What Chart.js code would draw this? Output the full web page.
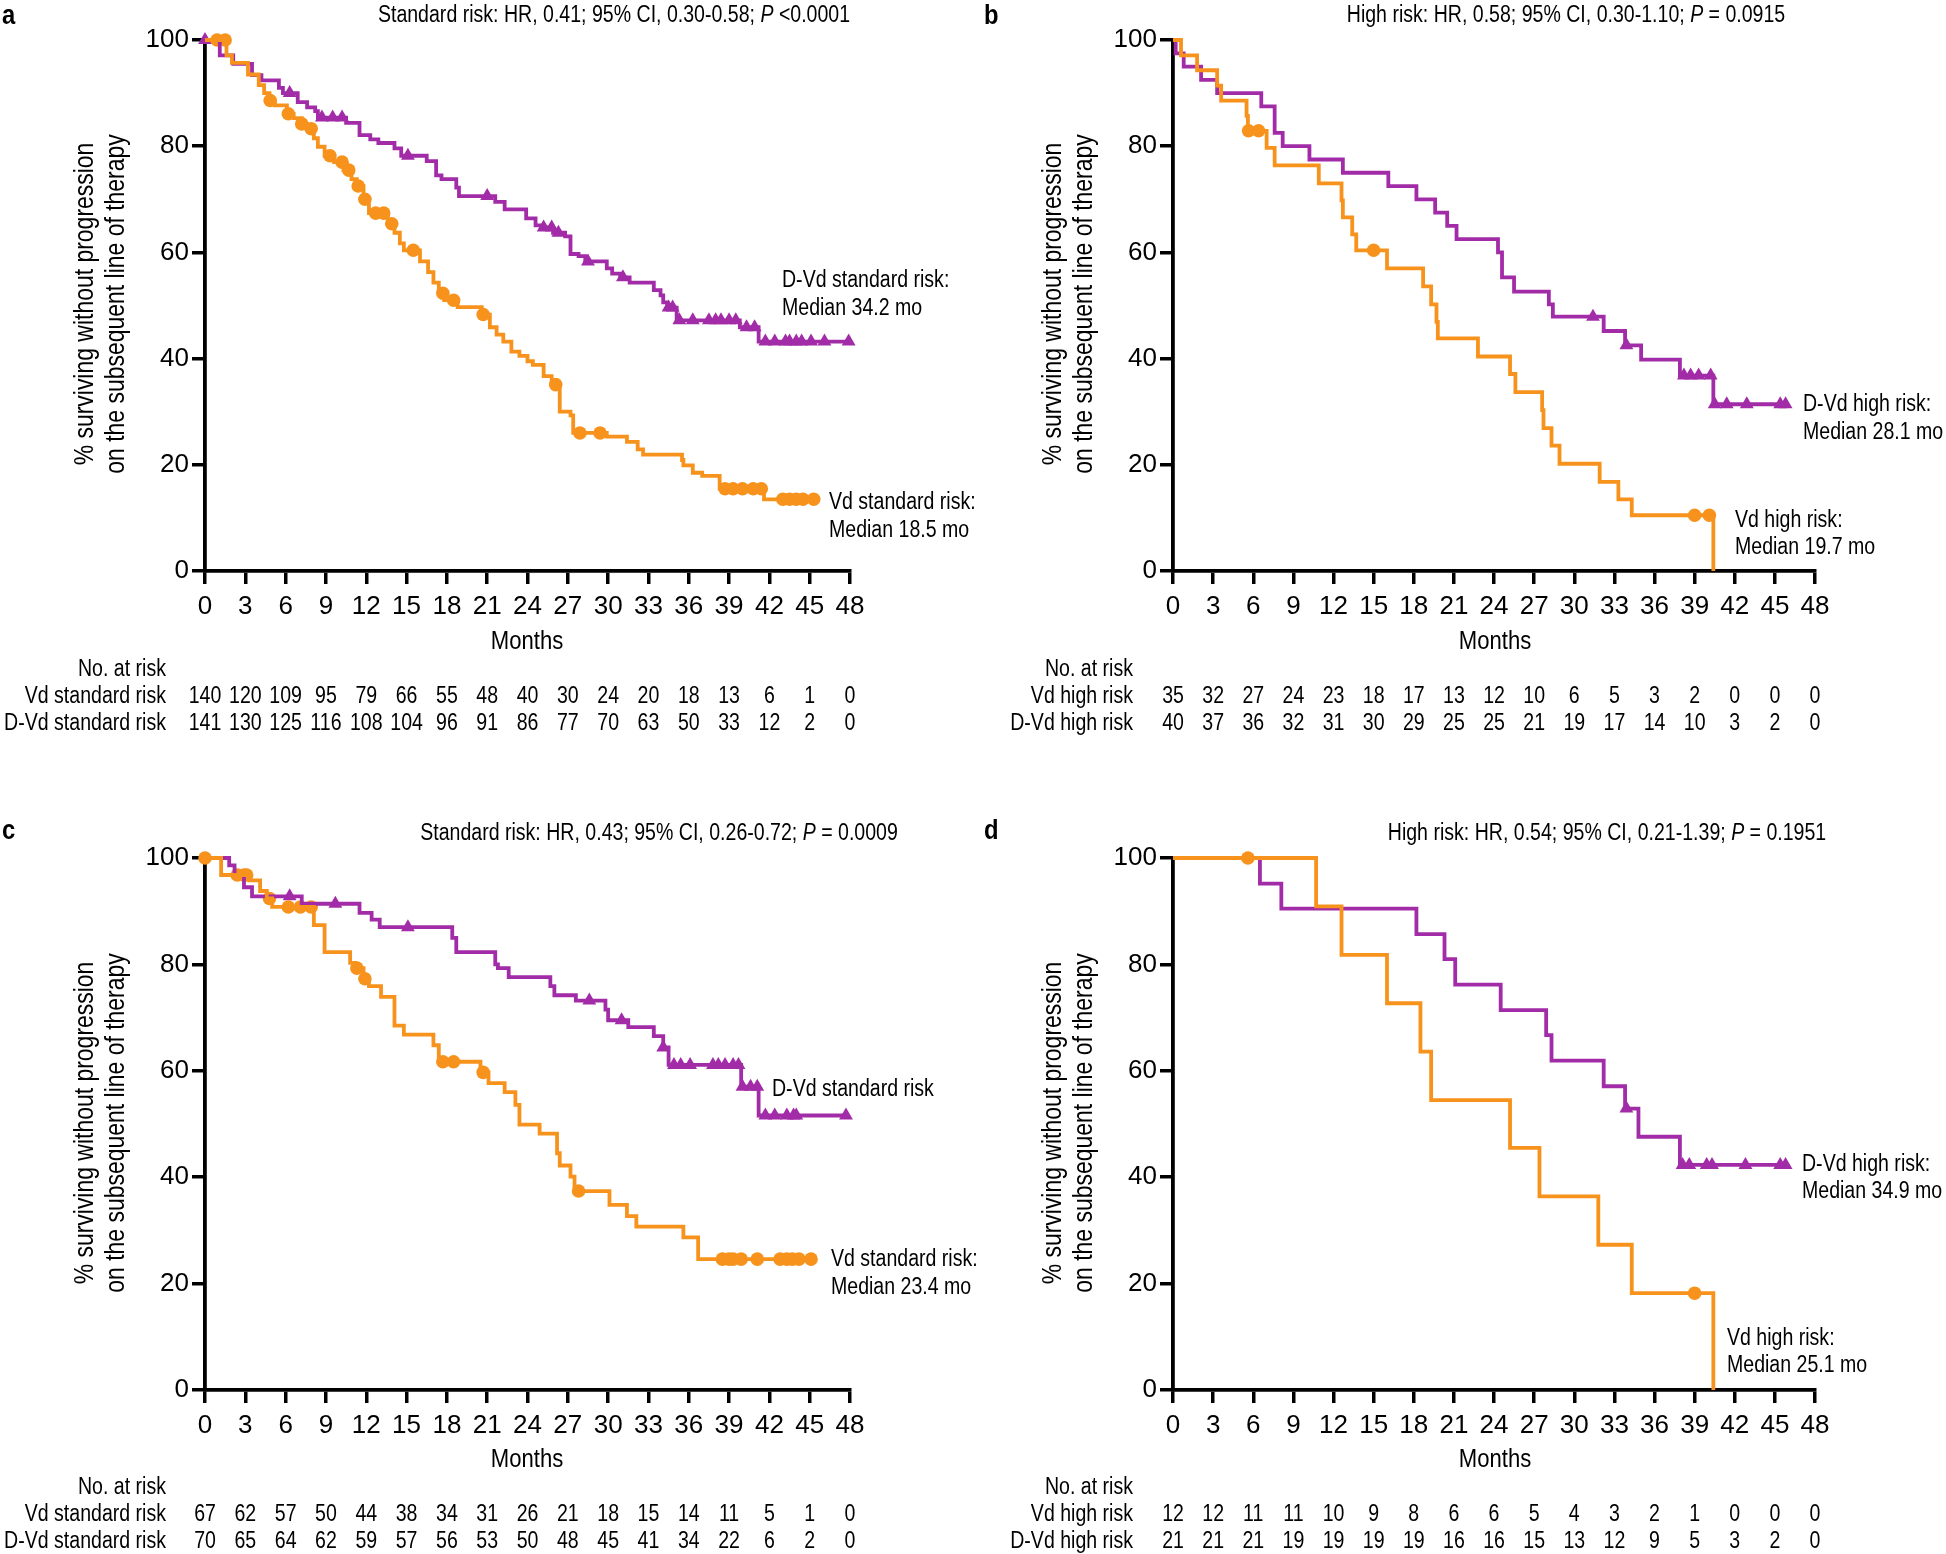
<!DOCTYPE html>
<html><head><meta charset="utf-8">
<script src="https://cdn.jsdelivr.net/npm/chart.js@4.4.1/dist/chart.umd.min.js"></script>
<style>
html,body{margin:0;padding:0;background:#fff;}
#wrap{position:relative;width:1946px;height:1554px;overflow:hidden;background:#fff;}
canvas{position:absolute;}
</style></head><body><div id="wrap">
<canvas id="ca" width="1010" height="777" style="left:0;top:0;width:1010px;height:777px"></canvas>
<canvas id="cc" width="1010" height="777" style="left:0;top:777px;width:1010px;height:777px"></canvas>
<canvas id="cb" width="973" height="777" style="left:973px;top:0;width:973px;height:777px"></canvas>
<canvas id="cd" width="973" height="777" style="left:973px;top:777px;width:973px;height:777px"></canvas>
</div>
<script>
// ---------- tick labels ----------
const monthTicks = [0,3,6,9,12,15,18,21,24,27,30,33,36,39,42,45,48];
const pctTicks = [0,20,40,60,80,100];

// ---------- panel a: standard risk ----------
const aVdTime = [0,1.6,2.0,3.2,4.0,4.4,4.8,5.2,6.1,6.6,7.2,7.6,8.1,8.4,8.9,9.6,10.3,10.9,11.3,11.8,12.2,13.6,14.1,14.5,14.8,16.0,16.6,17.0,17.4,17.8,18.8,20.6,21.2,21.7,22.2,22.8,23.4,24.0,24.4,25.2,25.8,26.4,27.2,27.4,29.9,31.4,32.2,32.6,35.5,35.6,36.3,37.0,38.3,41.6,45.3];
const aVdSurv = [100,97.1,95.7,93.5,91.5,90.0,88.6,87.7,86.1,85.3,84.2,83.3,81.5,79.9,78.2,77.0,75.5,73.8,72.5,70.0,67.4,65.4,63.7,61.7,60.4,58.3,56.3,54.3,52.3,51.0,49.7,48.3,45.9,44.5,43.2,41.3,40.5,39.5,38.8,36.7,35.1,30.0,29.3,26.0,25.3,24.3,22.9,21.9,20.9,19.9,18.5,17.9,15.5,13.5,13.5];
const aVdCensor = [0.9,1.5,4.85,6.2,7.2,7.9,9.3,10.2,10.7,11.4,11.9,12.7,13.3,13.9,15.5,17.7,18.5,20.7,26.1,27.9,29.4,38.7,39.3,40.0,40.8,41.4,43.0,43.5,44.0,44.5,45.3];
const aDVdTime = [0,1.1,2.1,3.5,4.2,5.5,5.8,6.9,7.6,8.2,8.4,10.5,11.5,12.3,12.9,14.1,14.6,16.5,17.2,17.6,18.7,18.9,21.6,22.3,23.9,24.6,25.0,25.9,26.8,27.2,27.8,28.3,29.9,30.3,30.9,31.6,33.4,33.9,34.1,34.4,35.1,39.8,41.2,47.9];
const aDVdSurv = [100,97.1,95.5,93.4,92.4,91.0,90.0,88.3,87.3,86.6,85.4,84.4,82.1,81.3,80.6,79.6,78.2,77.2,74.5,73.8,72.2,70.6,69.5,68.1,66.4,65.1,64.7,63.7,63.0,59.7,59.3,58.3,57.0,56.0,55.3,54.3,52.9,51.9,50.6,49.6,47.2,45.9,43.2,43.2];
const aDVdCensor = [0,6.3,8.7,9.5,10.2,15.1,21.0,25.2,25.8,26.3,28.5,31.1,34.5,34.8,35.3,36.3,37.5,38.0,38.4,39.0,39.5,40.3,40.9,41.7,42.4,43.2,43.5,44.0,44.4,45.1,46.1,47.9];
const aVdRisk = [140,120,109,95,79,66,55,48,40,30,24,20,18,13,6,1,0];
const aDVdRisk = [141,130,125,116,108,104,96,91,86,77,70,63,50,33,12,2,0];

// ---------- panel b: high risk ----------
const bVdTime = [0,0.6,1.8,3.3,3.6,5.5,5.6,7.0,7.6,10.9,12.6,12.7,13.4,13.7,16.0,18.7,19.3,19.7,19.8,22.8,25.2,25.6,27.6,27.7,28.3,28.9,31.9,33.3,34.3,40.4];
const bVdSurv = [100,97.1,94.3,91.4,88.6,85.7,82.9,79.7,76.4,73.0,69.8,66.6,63.4,60.4,57.0,53.6,50.2,46.9,43.8,40.4,37.1,33.7,30.3,26.9,23.6,20.2,16.8,13.5,10.5,0];
const bVdCensor = [5.65,6.4,15.0,39.0,40.1];
const bDVdTime = [0,0.2,0.8,2.1,3.3,6.6,7.6,8.2,10.2,12.7,16.1,18.2,19.6,20.5,21.2,24.3,24.6,25.5,28.1,28.4,32.2,33.8,35.0,37.9,40.4,45.8];
const bDVdSurv = [100,97.5,95.0,92.5,90.0,87.5,82.5,80.0,77.5,75.0,72.5,70.0,67.5,65.0,62.5,60.0,55.3,52.6,50.2,47.9,45.2,42.5,39.8,36.8,31.4,31.4];
const bDVdCensor = [31.4,33.9,38.2,38.7,39.3,40.2,40.5,41.4,42.9,45.4,45.8];
const bVdRisk = [35,32,27,24,23,18,17,13,12,10,6,5,3,2,0,0,0];
const bDVdRisk = [40,37,36,32,31,30,29,25,25,21,19,17,14,10,3,2,0];

// ---------- panel c: standard risk ----------
const cVdTime = [0,1.2,3.3,4.1,4.6,5.0,8.1,8.9,10.8,11.2,11.8,12.2,13.1,14.1,14.8,17.0,17.4,20.5,21.1,22.3,23.1,23.4,24.9,26.2,26.4,27.2,27.5,30.1,31.4,32.1,35.6,36.7,45.1];
const cVdSurv = [100,96.8,95.8,93.8,92.4,90.8,87.4,82.3,80.3,79.3,77.3,75.9,73.9,68.5,66.8,64.8,61.7,59.7,57.7,56.0,53.6,49.9,48.2,44.5,42.2,40.1,37.4,34.8,32.7,30.7,28.7,24.6,24.6];
const cVdCensor = [0,2.4,2.9,3.1,4.8,6.2,7.1,7.9,11.3,11.9,17.7,18.5,20.7,27.8,38.5,39.0,39.3,39.9,41.1,42.8,43.3,43.7,44.2,45.1];
const cDVdTime = [0,1.8,2.2,2.9,3.5,7.2,11.5,12.4,13.0,18.4,18.7,21.6,21.8,22.6,25.7,26.0,27.6,29.8,30.0,31.5,33.4,34.1,34.5,39.9,41.2,47.7];
const cDVdSurv = [100,98.6,96.8,94.5,92.8,91.4,89.7,88.4,87.0,85.0,82.3,80.0,79.3,77.6,75.9,74.2,73.2,71.5,69.5,68.2,66.5,64.4,61.1,57.0,51.6,51.6];
const cDVdCensor = [6.3,9.7,15.1,28.6,31.0,34.1,34.9,35.4,36.1,37.8,38.2,38.7,39.3,39.7,40.0,40.6,41.1,41.7,42.4,43.3,43.8,44.0,47.7];
const cVdRisk = [67,62,57,50,44,38,34,31,26,21,18,15,14,11,5,1,0];
const cDVdRisk = [70,65,64,62,59,57,56,53,50,48,45,41,34,22,6,2,0];

// ---------- panel d: high risk ----------
const dVdTime = [0,10.7,12.6,16.0,18.5,19.3,25.2,27.4,31.8,34.3,40.4];
const dVdSurv = [100,90.9,81.8,72.7,63.6,54.5,45.5,36.4,27.3,18.2,0];
const dVdCensor = [5.6,39.0];
const dDVdTime = [0,6.5,8.1,18.2,20.3,21.1,24.5,27.9,28.3,32.2,33.8,34.8,37.9,45.8];
const dDVdSurv = [100,95.2,90.5,85.7,81.0,76.2,71.4,66.7,61.9,57.1,52.9,47.6,42.3,42.3];
const dDVdCensor = [33.9,38.1,38.6,39.9,40.3,42.8,45.4,45.8];
const dVdRisk = [12,12,11,11,10,9,8,6,6,5,4,3,2,1,0,0,0];
const dDVdRisk = [21,21,21,19,19,19,19,16,16,15,13,12,9,5,3,2,0];

// ---------- styles ----------
const FONT = '"Liberation Sans", Arial, sans-serif';
const SX = 0.85;              // horizontal condensing of text
const ORANGE = '#F7931D';
const PURPLE = '#A22CA7';
const TXT = 23;

function survAt(times, surv, t) {
  let v = surv[0];
  for (let i = 0; i < times.length; i++) { if (times[i] <= t + 1e-9) v = surv[i]; }
  return v;
}
function stepData(times, surv) { return times.map((t, i) => ({x: t, y: surv[i]})); }
function censorData(times, surv, cens) { return cens.map(t => ({x: t, y: survAt(times, surv, t)})); }

function ctext(ctx, s, x, y, align, font) {
  ctx.save();
  ctx.translate(x, y);
  ctx.scale(SX, 1);
  ctx.font = font;
  ctx.textAlign = align;
  ctx.fillText(s, 0, 0);
  ctx.restore();
}
function drawRich(ctx, parts, cx, y, size) {
  let total = 0;
  parts.forEach(p => { ctx.font = (p.i ? 'italic ' : '') + size + 'px ' + FONT; p.w = ctx.measureText(p.t).width * SX; total += p.w; });
  let x = cx - total / 2;
  parts.forEach(p => { ctext(ctx, p.t, x, y, 'left', (p.i ? 'italic ' : '') + size + 'px ' + FONT); x += p.w; });
}

const textPlugin = {
  id: 'kmText',
  afterDraw(chart, args, o) {
    const ctx = chart.ctx;
    const xs = chart.scales.x;
    ctx.save();
    ctx.fillStyle = '#000';
    ctx.textBaseline = 'middle';
    ctext(ctx, o.letter, o.letterPos[0], o.letterPos[1], 'left', 'bold 28px ' + FONT);
    drawRich(ctx, o.title, o.titlePos[0], o.titlePos[1], TXT);
    [['% surviving without progression', o.yTitle.x1], ['on the subsequent line of therapy', o.yTitle.x2]].forEach(([s, x]) => {
      ctx.save();
      ctx.translate(x, o.yTitle.cy);
      ctx.rotate(-Math.PI / 2);
      ctext(ctx, s, 0, 0, 'center', '27px ' + FONT);
      ctx.restore();
    });
    ctext(ctx, 'Months', o.monthsPos[0], o.monthsPos[1], 'center', '26px ' + FONT);
    o.notes.forEach(n => ctext(ctx, n.t, n.x, n.y, 'left', TXT + 'px ' + FONT));
    ctext(ctx, 'No. at risk', o.riskRight, o.riskY[0], 'right', TXT + 'px ' + FONT);
    ctext(ctx, o.rowNames[0], o.riskRight, o.riskY[1], 'right', TXT + 'px ' + FONT);
    ctext(ctx, o.rowNames[1], o.riskRight, o.riskY[2], 'right', TXT + 'px ' + FONT);
    monthTicks.forEach((m, i) => {
      const px = xs.getPixelForValue(m);
      ctext(ctx, String(o.rows[0][i]), px, o.riskY[1], 'center', TXT + 'px ' + FONT);
      ctext(ctx, String(o.rows[1][i]), px, o.riskY[2], 'center', TXT + 'px ' + FONT);
    });
    ctx.restore();
  }
};

function makeChart(id, cfg) {
  const datasets = [
    {data: stepData(cfg.vd[0], cfg.vd[1]), borderColor: ORANGE, borderWidth: 3.8, stepped: 'before', pointRadius: 0, fill: false, clip: false, borderJoinStyle: 'miter'},
    {data: stepData(cfg.dvd[0], cfg.dvd[1]), borderColor: PURPLE, borderWidth: 3.8, stepped: 'before', pointRadius: 0, fill: false, clip: false, borderJoinStyle: 'miter'},
    {data: censorData(cfg.vd[0], cfg.vd[1], cfg.vd[2]), showLine: false, pointStyle: 'circle', pointRadius: 6.8, pointBackgroundColor: ORANGE, pointBorderWidth: 0, borderColor: ORANGE, clip: false},
    {data: censorData(cfg.dvd[0], cfg.dvd[1], cfg.dvd[2]), showLine: false, pointStyle: 'triangle', pointRadius: 8, pointBackgroundColor: PURPLE, pointBorderWidth: 0, borderColor: PURPLE, clip: false}
  ];
  const a = cfg.area;
  const cv = document.getElementById(id);
  return new Chart(cv, {
    type: 'line',
    data: {datasets},
    plugins: [textPlugin],
    options: {
      responsive: false, animation: false, devicePixelRatio: 1,
      layout: {padding: {left: a.left - 60, top: a.top, right: cv.width - a.right, bottom: 777 - a.bottom - 60}},
      plugins: {legend: {display: false}, tooltip: {enabled: false}, kmText: cfg.text},
      scales: {
        x: {
          type: 'linear', min: 0, max: 48,
          afterBuildTicks: s => { s.ticks = monthTicks.map(v => ({value: v})); },
          afterFit: s => { s.height = 60; },
          ticks: {color: '#000', font: {family: FONT, size: 26}, padding: 7, maxRotation: 0, autoSkip: false},
          grid: {drawOnChartArea: false, drawTicks: true, tickLength: 13, color: '#000', lineWidth: 3.5},
          border: {display: true, color: '#000', width: 3.8}
        },
        y: {
          type: 'linear', min: 0, max: 100,
          afterBuildTicks: s => { s.ticks = pctTicks.map(v => ({value: v})); },
          afterFit: s => { s.width = 60; },
          ticks: {color: '#000', font: {family: FONT, size: 26}, padding: 3},
          grid: {drawOnChartArea: false, drawTicks: true, tickLength: 13, color: '#000', lineWidth: 3.5},
          border: {display: true, color: '#000', width: 3.8}
        }
      }
    }
  });
}

makeChart('ca', {
  area: {left: 205, top: 40, right: 850, bottom: 571},
  vd: [aVdTime, aVdSurv, aVdCensor], dvd: [aDVdTime, aDVdSurv, aDVdCensor],
  text: {
    letter: 'a', letterPos: [2, 16],
    title: [{t: 'Standard risk: HR, 0.41; 95% CI, 0.30-0.58; '}, {t: 'P', i: true}, {t: ' <0.0001'}], titlePos: [614, 16],
    yTitle: {x1: 86, x2: 117, cy: 304}, monthsPos: [527, 642],
    notes: [{t: 'D-Vd standard risk:', x: 782, y: 281}, {t: 'Median 34.2 mo', x: 782, y: 309}, {t: 'Vd standard risk:', x: 829, y: 503}, {t: 'Median 18.5 mo', x: 829, y: 531}],
    riskRight: 166, riskY: [670, 697, 724], rowNames: ['Vd standard risk', 'D-Vd standard risk'], rows: [aVdRisk, aDVdRisk]
  }
});
makeChart('cc', {
  area: {left: 205, top: 81, right: 850, bottom: 613},
  vd: [cVdTime, cVdSurv, cVdCensor], dvd: [cDVdTime, cDVdSurv, cDVdCensor],
  text: {
    letter: 'c', letterPos: [2, 54],
    title: [{t: 'Standard risk: HR, 0.43; 95% CI, 0.26-0.72; '}, {t: 'P', i: true}, {t: ' = 0.0009'}], titlePos: [659, 57],
    yTitle: {x1: 86, x2: 117, cy: 346}, monthsPos: [527, 683],
    notes: [{t: 'D-Vd standard risk', x: 772, y: 313}, {t: 'Vd standard risk:', x: 831, y: 483}, {t: 'Median 23.4 mo', x: 831, y: 511}],
    riskRight: 166, riskY: [711, 738, 765], rowNames: ['Vd standard risk', 'D-Vd standard risk'], rows: [cVdRisk, cDVdRisk]
  }
});
makeChart('cb', {
  area: {left: 200, top: 40, right: 842, bottom: 571},
  vd: [bVdTime, bVdSurv, bVdCensor], dvd: [bDVdTime, bDVdSurv, bDVdCensor],
  text: {
    letter: 'b', letterPos: [11, 16],
    title: [{t: 'High risk: HR, 0.58; 95% CI, 0.30-1.10; '}, {t: 'P', i: true}, {t: ' = 0.0915'}], titlePos: [593, 16],
    yTitle: {x1: 81, x2: 112, cy: 304}, monthsPos: [522, 642],
    notes: [{t: 'D-Vd high risk:', x: 830, y: 405}, {t: 'Median 28.1 mo', x: 830, y: 433}, {t: 'Vd high risk:', x: 762, y: 521}, {t: 'Median 19.7 mo', x: 762, y: 548}],
    riskRight: 160, riskY: [670, 697, 724], rowNames: ['Vd high risk', 'D-Vd high risk'], rows: [bVdRisk, bDVdRisk]
  }
});
makeChart('cd', {
  area: {left: 200, top: 81, right: 842, bottom: 613},
  vd: [dVdTime, dVdSurv, dVdCensor], dvd: [dDVdTime, dDVdSurv, dDVdCensor],
  text: {
    letter: 'd', letterPos: [11, 54],
    title: [{t: 'High risk: HR, 0.54; 95% CI, 0.21-1.39; '}, {t: 'P', i: true}, {t: ' = 0.1951'}], titlePos: [634, 57],
    yTitle: {x1: 81, x2: 112, cy: 346}, monthsPos: [522, 683],
    notes: [{t: 'D-Vd high risk:', x: 829, y: 388}, {t: 'Median 34.9 mo', x: 829, y: 415}, {t: 'Vd high risk:', x: 754, y: 562}, {t: 'Median 25.1 mo', x: 754, y: 589}],
    riskRight: 160, riskY: [711, 738, 765], rowNames: ['Vd high risk', 'D-Vd high risk'], rows: [dVdRisk, dDVdRisk]
  }
});
</script>
</body></html>
